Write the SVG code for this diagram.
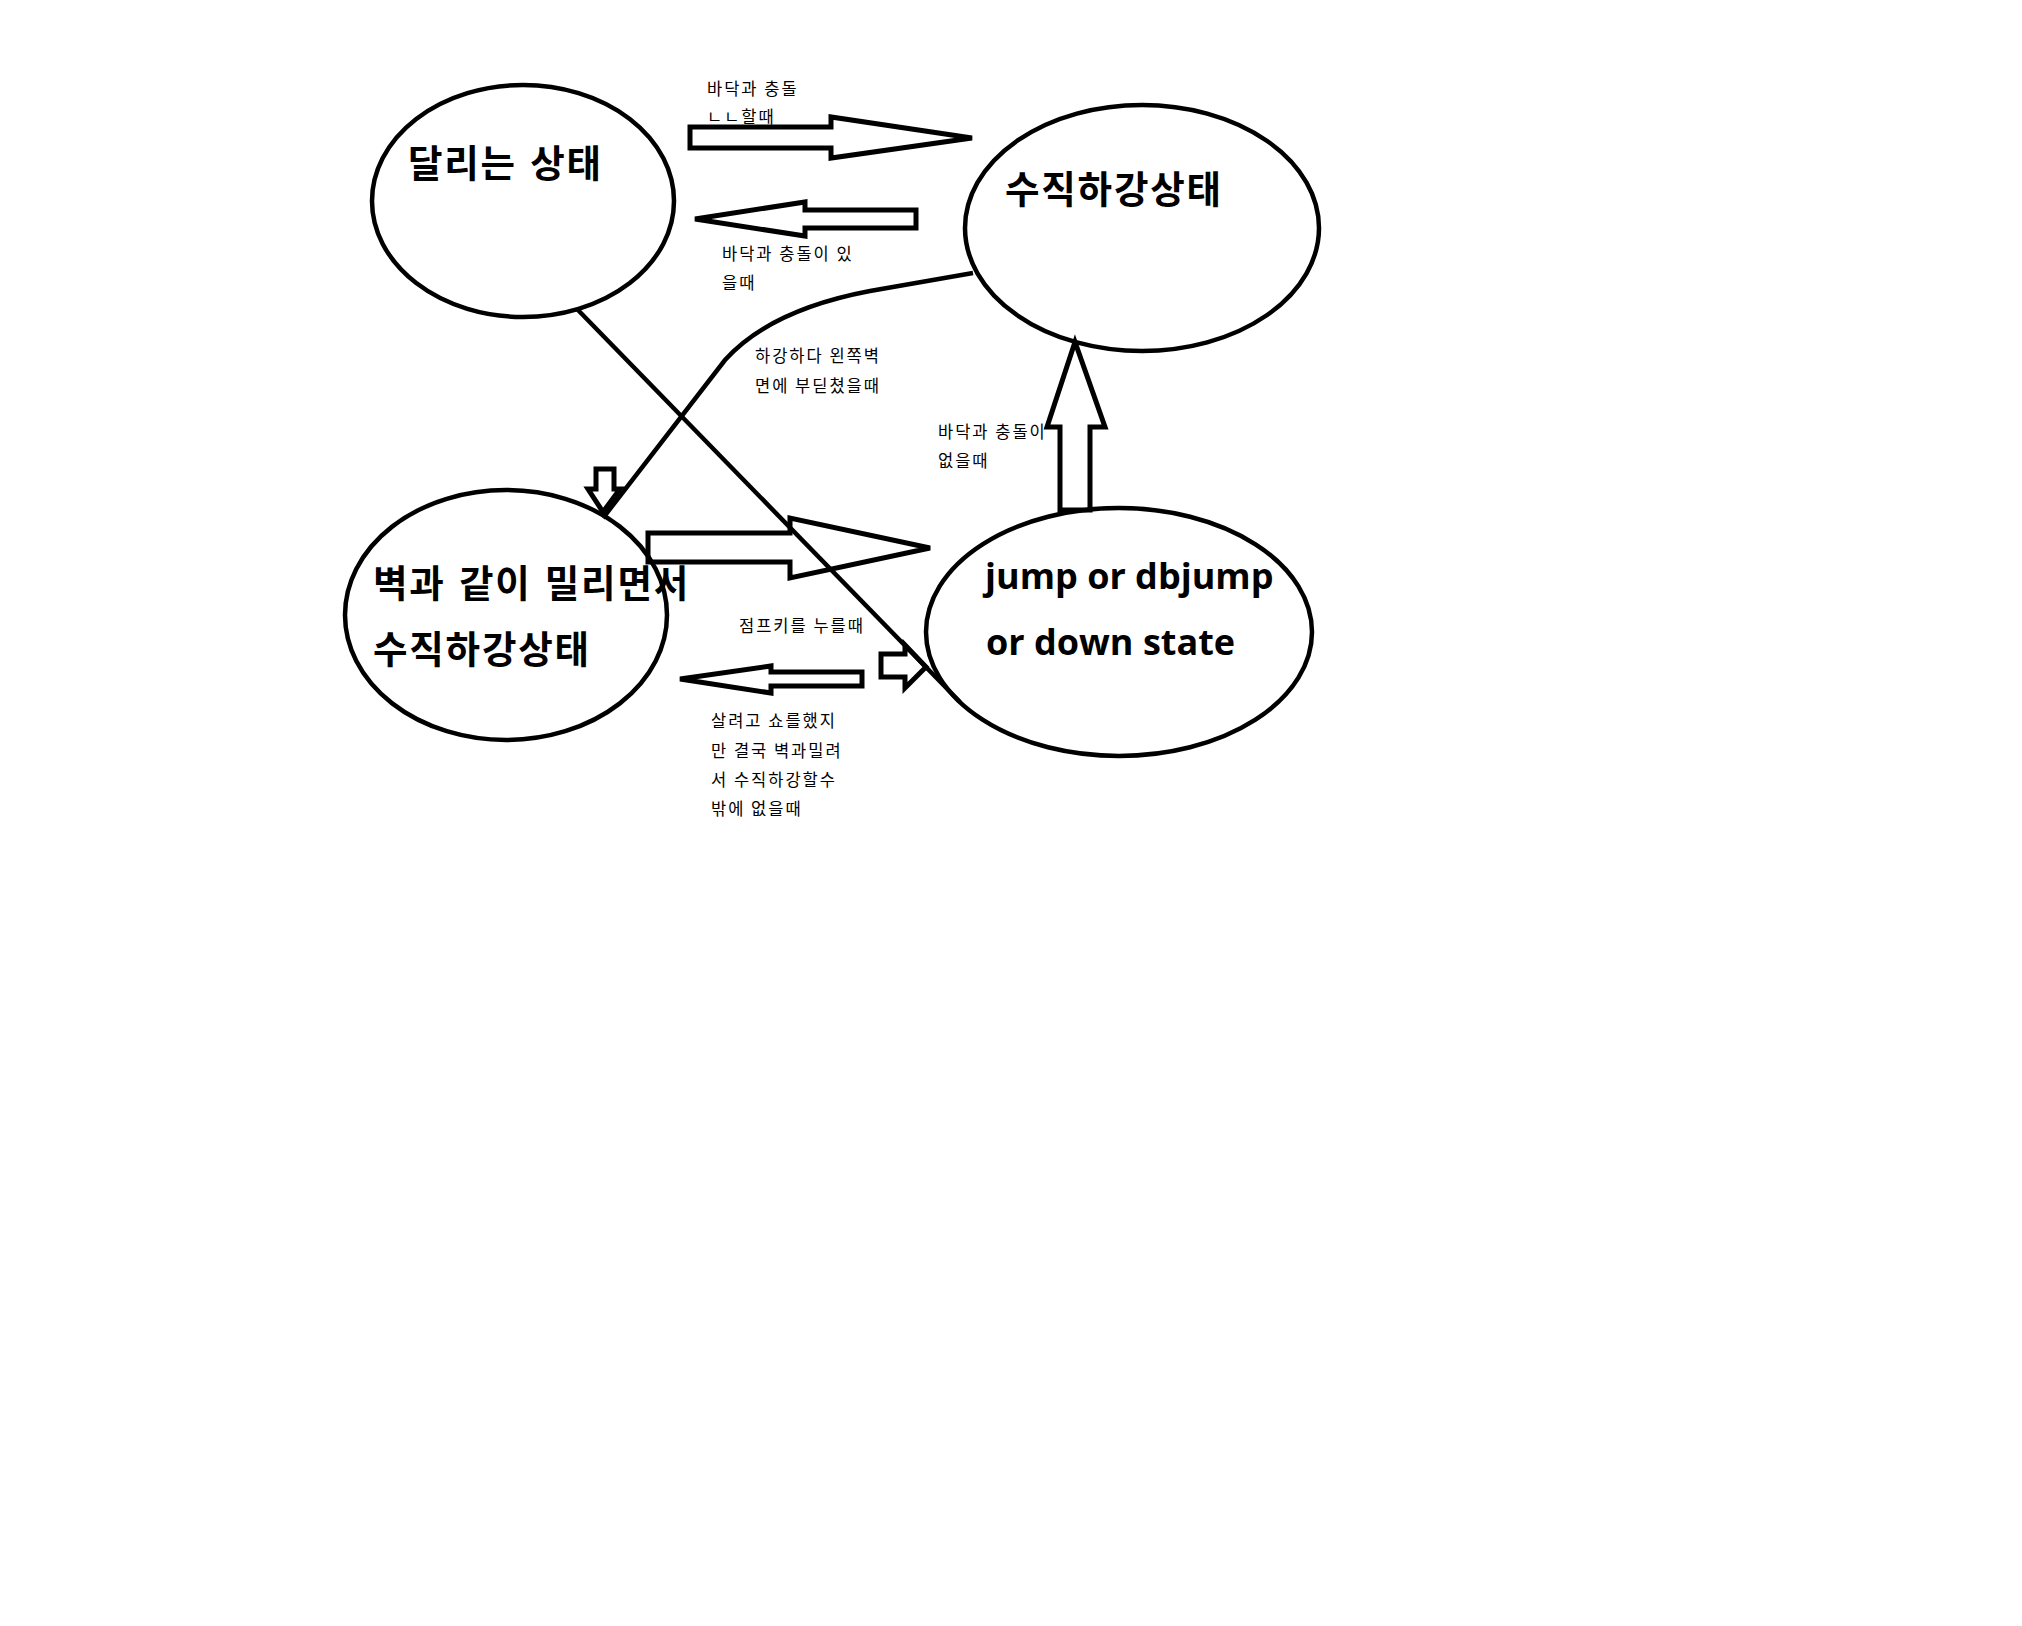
<svg xmlns="http://www.w3.org/2000/svg" width="2022" height="1626" viewBox="0 0 2022 1626">
<style>
.node{fill:none;stroke:#000;stroke-width:4.5}
.arr{fill:none;stroke:#000;stroke-width:5;stroke-linejoin:miter}
.ln{fill:none;stroke:#000;stroke-width:4.5}
.big{font-family:"Noto Sans CJK KR","Malgun Gothic",sans-serif;font-weight:bold;font-size:37.5px;letter-spacing:1.8px;word-spacing:3px;fill:#000}
.lat{font-family:"Open Sans","Noto Sans",sans-serif;font-weight:bold;font-size:36px;fill:#000}
.lbl{font-family:"Noto Sans CJK KR",sans-serif;font-size:16.5px;letter-spacing:2px;fill:#000}
</style>
<rect width="2022" height="1626" fill="#fff"/>
<g id="connectors">
<line class="ln" x1="577" y1="309" x2="960" y2="702"/>
<path class="ln" d="M973 273 L870 291 Q770 310 725 360 L603 518"/>
<polygon class="arr" points="690,127 831,127 831,117 972,138 831,158 831,148 690,148"/>
<polygon class="arr" points="916,210 805,210 805,202 695,219 805,236 805,228 916,228"/>
<polygon class="arr" points="648,533 790,533 790,518 930,548 790,578 790,562 648,562"/>
<polygon class="arr" points="862,672 771,672 771,666 680,679 771,693 771,686 862,686"/>
<polygon class="arr" points="881,654 905,654 905,645 926,667 905,688 905,677 881,677"/>
<polygon class="arr" points="1060,510 1060,427 1047,427 1075,342 1105,427 1090,427 1090,510"/>
<polygon class="arr" points="596,469 614,469 614,489 620,489 603,512 588,489 596,489"/>
</g>
<g id="node-running">
<ellipse class="node" cx="523" cy="201" rx="151" ry="116"/>
<text class="big" x="408" y="177">달리는 상태</text>
</g>
<g id="node-falling">
<ellipse class="node" cx="1142" cy="228" rx="177" ry="123"/>
<text class="big" x="1005" y="203">수직하강상태</text>
</g>
<g id="node-wall">
<ellipse class="node" cx="506" cy="615" rx="161" ry="125"/>
<text class="big" x="373" y="597">벽과 같이 밀리면서</text>
<text class="big" x="373" y="663">수직하강상태</text>
</g>
<g id="node-jump">
<ellipse class="node" cx="1119" cy="632" rx="193" ry="124"/>
<text class="lat" x="985" y="589">jump or dbjump</text>
<text class="lat" x="986" y="655">or down state</text>
</g>
<g id="labels">
<text class="lbl" x="707" y="95">바닥과 충돌</text>
<text class="lbl" x="707" y="123">ㄴㄴ할때</text>
<text class="lbl" x="722" y="260">바닥과 충돌이 있</text>
<text class="lbl" x="722" y="289">을때</text>
<text class="lbl" x="755" y="362">하강하다 왼쪽벽</text>
<text class="lbl" x="755" y="392">면에 부딛쳤을때</text>
<text class="lbl" x="938" y="438">바닥과 충돌이</text>
<text class="lbl" x="938" y="467">없을때</text>
<text class="lbl" x="739" y="632">점프키를 누를때</text>
<text class="lbl" x="711" y="727">살려고 쇼를했지</text>
<text class="lbl" x="711" y="757">만 결국 벽과밀려</text>
<text class="lbl" x="711" y="786">서 수직하강할수</text>
<text class="lbl" x="711" y="815">밖에 없을때</text>
</g>
</svg>
